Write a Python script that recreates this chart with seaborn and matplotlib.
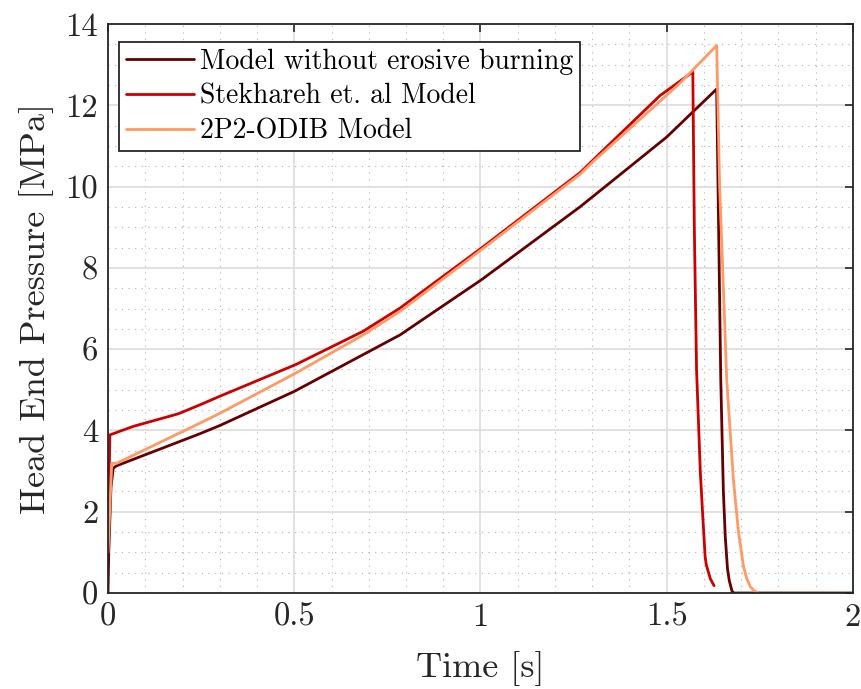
import numpy as np
import pandas as pd
import matplotlib
matplotlib.use("Agg")
import matplotlib.pyplot as plt
import matplotlib.ticker as mticker
import seaborn as sns

# ---- data ----
labels = ["Model without erosive burning", "Stekhareh et. al Model", "2P2-ODIB Model"]

t_noerosive = [0.0, 0.002, 0.008, 0.014, 0.023, 0.247, 0.30, 0.50, 0.784,
               1.003, 1.267, 1.40, 1.50, 1.634,
               1.640, 1.645, 1.652, 1.657, 1.663, 1.668, 1.675, 1.680, 2.0]
p_noerosive = [0.0, 1.0, 2.6, 3.07, 3.13, 3.92, 4.12, 4.96, 6.35,
               7.71, 9.50, 10.48, 11.22, 12.40,
               8.5, 5.25, 2.5, 1.4, 0.6, 0.3, 0.05, 0.0, 0.0]

t_stekhareh = [0.0, 0.005, 0.068, 0.189, 0.247, 0.30, 0.504, 0.685, 0.784,
               1.003, 1.267, 1.303, 1.482, 1.570,
               1.574, 1.580, 1.590, 1.596, 1.603, 1.606, 1.617, 1.627]
p_stekhareh = [0.98, 3.89, 4.10, 4.41, 4.63, 4.84, 5.62, 6.44, 7.01,
               8.49, 10.34, 10.66, 12.24, 12.82,
               9.0, 5.5, 3.0, 2.0, 0.9, 0.7, 0.35, 0.18]

t_odib = [0.0, 0.010, 0.023, 0.247, 0.30, 0.504, 0.685, 0.784,
          1.003, 1.267, 1.303, 1.482, 1.536, 1.634,
          1.642, 1.652, 1.661, 1.670, 1.679, 1.692, 1.706, 1.715, 1.724, 1.735, 1.746]
p_odib = [1.0, 3.19, 3.19, 4.18, 4.42, 5.41, 6.35, 6.93,
          8.45, 10.30, 10.62, 12.10, 12.55, 13.47,
          10.0, 7.5, 5.25, 4.0, 2.78, 1.55, 0.65, 0.35, 0.16, 0.05, 0.0]

colors = ["#660000", "#cc0000", "#ff9966"]
xticks = [0, 0.5, 1, 1.5, 2]
xticklabels = ["0", "0.5", "1", "1.5", "2"]
yticks = [0, 2, 4, 6, 8, 10, 12, 14]
yticklabels = ["0", "2", "4", "6", "8", "10", "12", "14"]

frames = []
for lab, t, p in zip(labels, [t_noerosive, t_stekhareh, t_odib],
                     [p_noerosive, p_stekhareh, p_odib]):
    frames.append(pd.DataFrame({"Time": t, "Pressure": p, "Model": lab}))
df = pd.concat(frames, ignore_index=True)

sns.set_style("white")
plt.rcParams["font.family"] = ["cmr10", "DejaVu Serif"]
plt.rcParams["mathtext.fontset"] = "cm"
plt.rcParams["axes.formatter.use_mathtext"] = True
plt.rcParams["axes.unicode_minus"] = False

fig = plt.figure(figsize=(8.62, 6.89), dpi=100)
ax = fig.add_axes([108 / 862, 1 - 593 / 689, 745 / 862, 569 / 689])

sns.lineplot(data=df, x="Time", y="Pressure", hue="Model", hue_order=labels,
             units="Model", estimator=None, sort=False, palette=colors,
             linewidth=2.0, ax=ax)

ax.set_xlim(0, 2)
ax.set_ylim(0, 14)
ax.set_xticks(xticks)
ax.set_xticklabels(xticklabels)
ax.set_yticks(yticks)
ax.set_yticklabels(yticklabels)
ax.xaxis.set_minor_locator(mticker.MultipleLocator(0.1))
ax.yaxis.set_minor_locator(mticker.MultipleLocator(0.5))

ax.grid(True, which="major", color="#dcdcdc", linewidth=1.2, linestyle="-")
ax.grid(True, which="minor", color="#b0b0b0", linewidth=0.8, linestyle=(0, (1, 5)))
ax.set_axisbelow(True)

for s in ax.spines.values():
    s.set_color("#262626")
    s.set_linewidth(1.3)
    s.set_visible(True)

ax.tick_params(which="major", direction="in", length=6, width=1.2, color="#262626",
               top=True, right=True, labelsize=23.5, labelcolor="#262626")
ax.tick_params(which="minor", length=0)
ax.tick_params(axis="x", pad=7)
ax.tick_params(axis="y", pad=7)

ax.set_xlabel("Time [s]", fontsize=26, color="#262626", labelpad=14)
ax.set_ylabel("Head End Pressure [MPa]", fontsize=26, color="#262626", labelpad=8)

handles, _ = ax.get_legend_handles_labels()
leg = ax.legend(handles[:3], labels, loc="upper left", bbox_to_anchor=(0.0152, 0.969),
                borderaxespad=0, fontsize=20, frameon=True, fancybox=False,
                framealpha=1, edgecolor="#262626", handlelength=2.45,
                handletextpad=0.2, labelspacing=0.3, borderpad=0.25)
leg.get_frame().set_linewidth(1.3)
for txt in leg.get_texts():
    txt.set_color("#000000")

fig.savefig("out.png", dpi=100)
